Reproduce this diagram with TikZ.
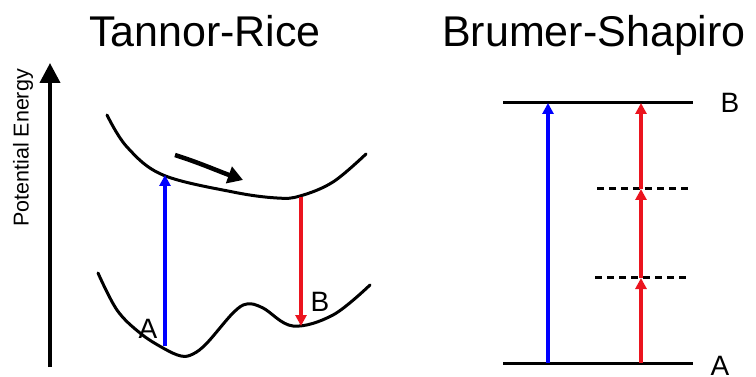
\documentclass[tikz,border=0pt]{standalone}
\usepackage{fontspec}
\setmainfont{Liberation Sans}
\usetikzlibrary{arrows.meta}
\definecolor{myblue}{RGB}{0,0,255}
\definecolor{myred}{RGB}{235,20,30}
\begin{document}
\begin{tikzpicture}[x=1pt,y=-1pt,
  title/.style={font=\fontsize{43}{43}\selectfont, anchor=base, inner sep=0pt},
  lab/.style={font=\fontsize{28}{28}\selectfont, anchor=base, inner sep=0pt},
  curve/.style={line width=3pt, line cap=round},
  level/.style={line width=3pt},
  dashlevel/.style={line width=3pt, dash pattern=on 7pt off 5pt},
  bluearrow/.style={myblue, line width=3.2pt, -{Triangle[length=11pt,width=11pt]}},
  redarrow/.style={myred, line width=3.2pt, -{Triangle[length=11pt,width=11pt]}}
]
\useasboundingbox (0,0) rectangle (756,377);

% titles
\node[title] (t1) at (205,47) {Tannor-Rice};
\node[title] (t2) at (594,47) {Brumer-Shapiro};

% energy axis
\coordinate (ax0) at (50,367);
\coordinate (ax1) at (50,63);
\draw[line width=4pt, -{Triangle[length=20pt,width=20pt]}] (ax0) -- (ax1);
\node[rotate=90, font=\fontsize{21.5}{21.5}\selectfont, inner sep=0pt] (pe) at (23,148) {Potential Energy};

% upper potential curve
\draw[curve] plot[smooth, tension=0.6] coordinates {(107,115) (127,147) (163,175) (233,192) (277,198) (300,196) (333,182) (366,154)};
% lower potential curve
\draw[curve] plot[smooth, tension=0.6] coordinates {(98,273) (117,310) (140,333) (163,348) (181,356) (193,354) (207,343) (233,313) (247,304) (263,308) (293,326) (333,315) (370,285)};

% wave packet motion arrow
\coordinate (m0) at (175,155);
\coordinate (m1) at (243,180);
\draw[line width=4.5pt, -{Triangle[length=15pt,width=17pt]}] (m0) .. controls (200,163) and (218,171) .. (m1);

% transitions (Tannor-Rice)
\coordinate (ba) at (165,346);
\coordinate (bb) at (165,175);
\draw[bluearrow] (ba) -- (bb);
\coordinate (ra) at (301,197);
\coordinate (rb) at (301,326);
\draw[redarrow] (ra) -- (rb);

\node[lab] (la) at (148,338) {A};
\node[lab] (lb) at (320,312) {B};

% Brumer-Shapiro levels
\coordinate (Bl) at (503,103);
\coordinate (Br) at (693,103);
\coordinate (Al) at (503,363);
\coordinate (Ar) at (693,363);
\draw[level] (Bl) -- (Br);
\draw[level] (Al) -- (Ar);
\coordinate (d1l) at (597,189);
\coordinate (d1r) at (692,189);
\coordinate (d2l) at (595,278);
\coordinate (d2r) at (690,278);
\draw[dashlevel] (d1l) -- (d1r);
\draw[dashlevel] (d2l) -- (d2r);

\node[lab] (rb2) at (730,113) {B};
\node[lab] (ra2) at (720,375) {A};

% one-photon path
\coordinate (p0) at (548,363);
\coordinate (p1) at (548,103);
\draw[bluearrow] (p0) -- (p1);

% three-photon path
\coordinate (q0) at (641,363);
\coordinate (q1) at (641,278);
\coordinate (q2) at (641,189);
\coordinate (q3) at (641,103);
\draw[redarrow] (q0) -- (q1);
\draw[redarrow] (q1) -- (q2);
\draw[redarrow] (q2) -- (q3);
\end{tikzpicture}
\end{document}
